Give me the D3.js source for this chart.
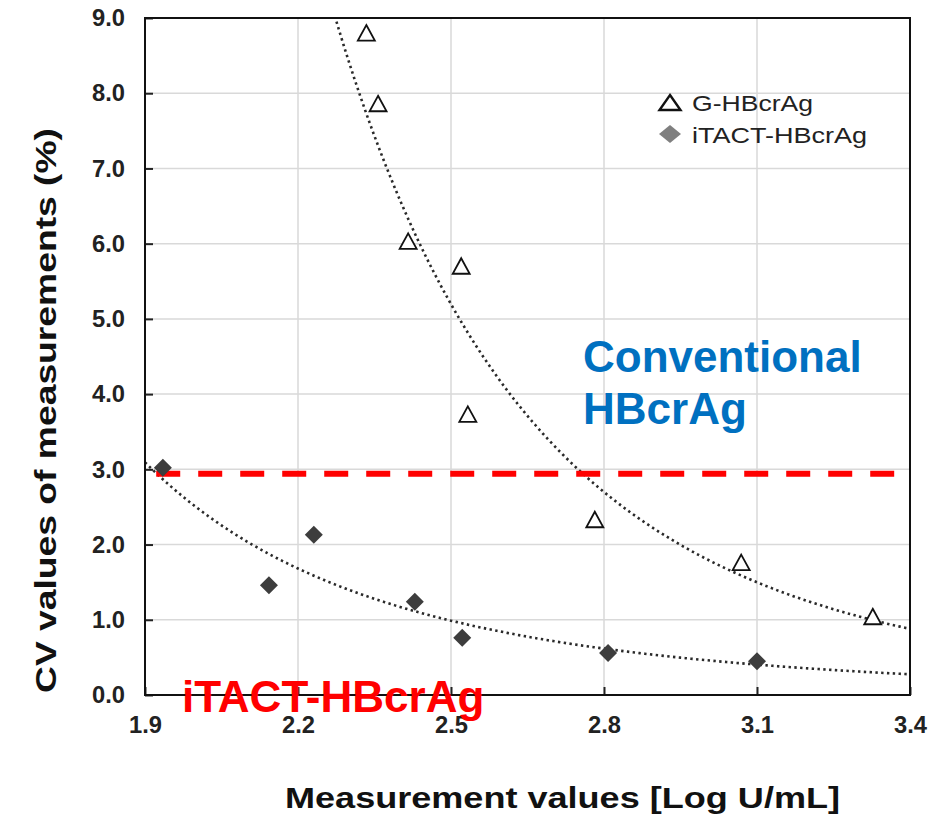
<!DOCTYPE html>
<html>
<head>
<meta charset="utf-8">
<script src="https://cdn.jsdelivr.net/npm/d3@7"></script>
<style>
  body { margin: 0; background: #fff; }
  svg { font-family: "Liberation Sans", Arial, sans-serif; }
</style>
</head>
<body>
<div id="chart"></div>
<script>
// G-HBcrAg (conventional) points
var gX = [2.334, 2.357, 2.416, 2.520, 2.533, 2.782, 3.069, 3.327];
var gY = [8.80, 7.86, 6.03, 5.70, 3.73, 2.33, 1.76, 1.04];

// iTACT-HBcrAg points
var iX = [1.935, 2.143, 2.231, 2.429, 2.522, 2.808, 3.100];
var iY = [3.02, 1.46, 2.13, 1.24, 0.76, 0.56, 0.45];

var xTicks = [1.9, 2.2, 2.5, 2.8, 3.1, 3.4];
var yTicks = [0, 1, 2, 3, 4, 5, 6, 7, 8, 9];

var cutoff = 2.94;           // red dashed line
var cutoffRange = [1.922, 3.369];

var legendNames = ["G-HBcrAg", "iTACT-HBcrAg"];

var margin = {top: 18, right: 39, bottom: 120, left: 145},
    width = 949 - margin.left - margin.right,
    height = 815 - margin.top - margin.bottom;

var x = d3.scaleLinear().domain([1.9, 3.4]).range([0, width]);
var y = d3.scaleLinear().domain([0, 9]).range([height, 0]);

var svg = d3.select("#chart").append("svg")
    .attr("width", 949)
    .attr("height", 815);

var g = svg.append("g")
    .attr("transform", "translate(" + margin.left + "," + margin.top + ")");

g.append("clipPath").attr("id", "plotclip")
  .append("rect").attr("width", width).attr("height", height);

// grid
g.selectAll(".hgrid").data(yTicks.slice(1, -1)).enter().append("line")
    .attr("x1", 0).attr("x2", width)
    .attr("y1", function(d) { return y(d); })
    .attr("y2", function(d) { return y(d); })
    .style("stroke", "#d9d9d9").style("stroke-width", 1.5);

g.selectAll(".vgrid").data(xTicks.slice(1, -1)).enter().append("line")
    .attr("y1", 0).attr("y2", height)
    .attr("x1", function(d) { return x(d); })
    .attr("x2", function(d) { return x(d); })
    .style("stroke", "#d9d9d9").style("stroke-width", 1.5);

// power trendline, least squares on log-log like Excel
function powerFit(xs, ys) {
  var lx = xs.map(Math.log), ly = ys.map(Math.log);
  var mx = d3.mean(lx), my = d3.mean(ly);
  var sxy = d3.sum(lx, function(v, i) { return (v - mx) * (ly[i] - my); });
  var sxx = d3.sum(lx, function(v) { return (v - mx) * (v - mx); });
  var b = sxy / sxx;
  var a = Math.exp(my - b * mx);
  return function(v) { return a * Math.pow(v, b); };
}

var steps = d3.range(1.9, 3.4001, 0.01);
var trendLine = d3.line()
    .x(function(d) { return x(d[0]); })
    .y(function(d) { return y(d[1]); });

[[gX, gY], [iX, iY]].forEach(function(s) {
  var f = powerFit(s[0], s[1]);
  g.append("path")
      .attr("clip-path", "url(#plotclip)")
      .attr("d", trendLine(steps.map(function(v) { return [v, f(v)]; })))
      .style("fill", "none")
      .style("stroke", "#2a2a2a")
      .style("stroke-width", 2.6)
      .style("stroke-dasharray", "2.4,3.4");
});

// axes
var yAxis = g.append("g")
    .call(d3.axisLeft(y).tickValues(yTicks).tickSize(-8).tickPadding(20)
      .tickFormat(d3.format(".1f")));

var xAxis = g.append("g")
    .attr("transform", "translate(0," + height + ")")
    .call(d3.axisBottom(x).tickValues(xTicks).tickSize(-8).tickPadding(21)
      .tickFormat(d3.format(".1f")));

[yAxis, xAxis].forEach(function(ax) {
  ax.select(".domain").remove();
  ax.selectAll("line").style("stroke", "#222").style("stroke-width", 2);
  ax.selectAll("text")
      .style("font-size", "24px")
      .style("font-weight", "bold")
      .style("fill", "#222")
      .attr("textLength", 33)
      .attr("lengthAdjust", "spacingAndGlyphs");
});

// frame
g.append("rect")
    .attr("width", width).attr("height", height)
    .style("fill", "none").style("stroke", "#111").style("stroke-width", 2);

// red cut-off line
g.append("line")
    .attr("x1", x(cutoffRange[0])).attr("x2", x(cutoffRange[1]))
    .attr("y1", y(cutoff)).attr("y2", y(cutoff))
    .style("stroke", "#ff0000")
    .style("stroke-width", 6)
    .style("stroke-dasharray", "24,18");

// markers
var tri = "M0,-8 L8.5,7.5 L-8.5,7.5 Z";
var dia = "M0,-9 L9,0 L0,9 L-9,0 Z";

g.selectAll(".gpt").data(gX).enter().append("path")
    .attr("d", tri)
    .attr("transform", function(d, i) { return "translate(" + x(d) + "," + y(gY[i]) + ")"; })
    .style("fill", "#fff").style("stroke", "#111").style("stroke-width", 1.8);

g.selectAll(".ipt").data(iX).enter().append("path")
    .attr("d", dia)
    .attr("transform", function(d, i) { return "translate(" + x(d) + "," + y(iY[i]) + ")"; })
    .style("fill", "#3d3d3d");

// legend
svg.append("path")
    .attr("d", "M0,-8 L10.5,7 L-10.5,7 Z")
    .attr("transform", "translate(670,103)")
    .style("fill", "#fff").style("stroke", "#111").style("stroke-width", 2.4);

svg.append("path")
    .attr("d", "M0,-9 L11,0 L0,9 L-11,0 Z")
    .attr("transform", "translate(670,134)")
    .style("fill", "#7f7f7f");

svg.append("text")
    .attr("x", 692).attr("y", 111)
    .attr("textLength", 121).attr("lengthAdjust", "spacingAndGlyphs")
    .style("font-size", "22px").style("fill", "#222")
    .text(legendNames[0]);

svg.append("text")
    .attr("x", 692).attr("y", 143)
    .attr("textLength", 175).attr("lengthAdjust", "spacingAndGlyphs")
    .style("font-size", "22px").style("fill", "#222")
    .text(legendNames[1]);

// axis titles
svg.append("text")
    .attr("x", 285).attr("y", 808)
    .attr("textLength", 555).attr("lengthAdjust", "spacingAndGlyphs")
    .style("font-size", "30px").style("font-weight", "bold").style("fill", "#111")
    .text("Measurement values [Log U/mL]");

svg.append("text")
    .attr("transform", "translate(56,693) rotate(-90)")
    .attr("textLength", 565).attr("lengthAdjust", "spacingAndGlyphs")
    .style("font-size", "30px").style("font-weight", "bold").style("fill", "#111")
    .text("CV values of measurements (%)");

// annotations
svg.append("text")
    .attr("x", 583).attr("y", 372)
    .style("font-size", "44px").style("font-weight", "bold").style("fill", "#0070c0")
    .text("Conventional");

svg.append("text")
    .attr("x", 583).attr("y", 424)
    .style("font-size", "44px").style("font-weight", "bold").style("fill", "#0070c0")
    .text("HBcrAg");

svg.append("text")
    .attr("x", 182).attr("y", 712)
    .style("font-size", "44px").style("font-weight", "bold").style("fill", "#ff0000")
    .text("iTACT-HBcrAg");
</script>
</body>
</html>
